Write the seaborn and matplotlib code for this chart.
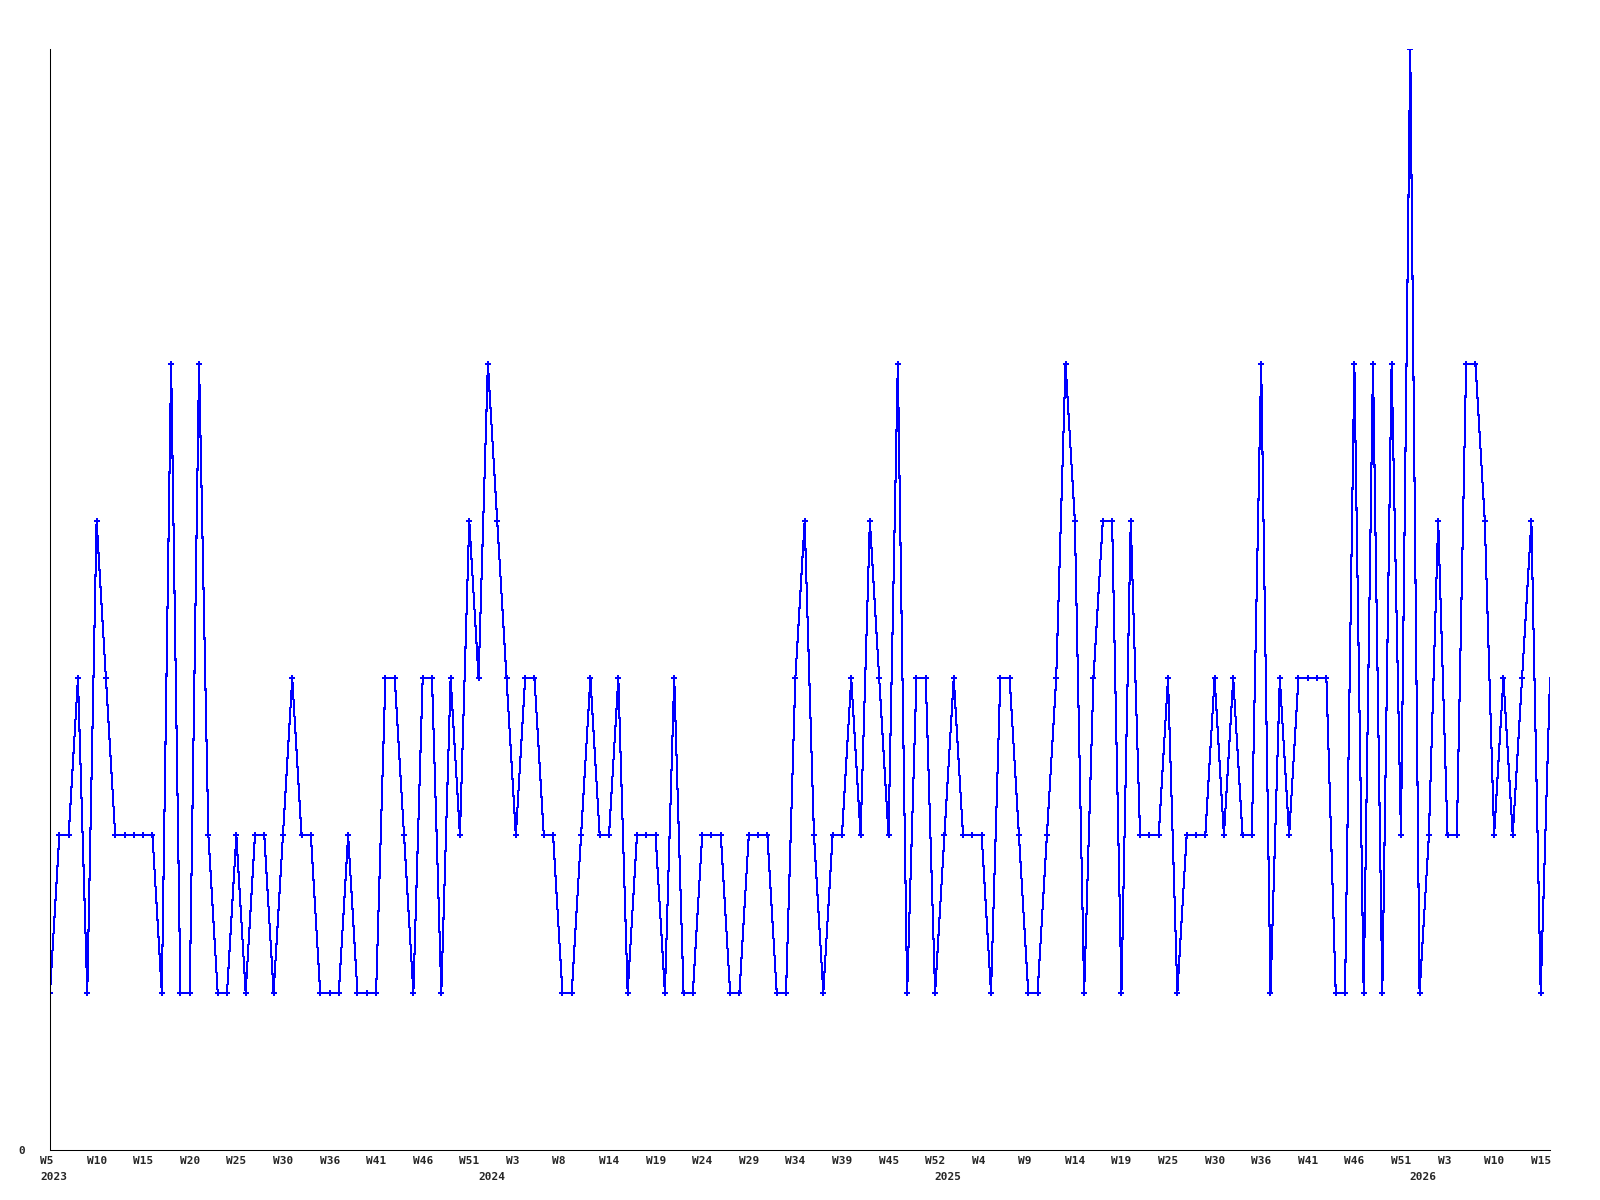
import numpy as np
import pandas as pd
import matplotlib
matplotlib.use('Agg')
import matplotlib.pyplot as plt
import matplotlib.transforms as mtransforms
import seaborn as sns

# weekly counts, 2023 W5 .. 2026 W16
values = [
    1, 2, 2, 3, 1, 4, 3, 2, 2, 2, 2, 2, 1, 5, 1, 1, 5, 2, 1, 1, 2,
    1, 2, 2, 1, 2, 3, 2, 2, 1, 1, 1, 2, 1, 1, 1, 3, 3, 2, 1, 3,
    3, 1, 3, 2, 4, 3, 5, 4, 3, 2, 3, 3, 2, 2, 1, 1, 2, 3, 2, 2, 3,
    1, 2, 2, 2, 1, 3, 1, 1, 2, 2, 2, 1, 1, 2, 2, 2, 1, 1, 3, 4,
    2, 1, 2, 2, 3, 2, 4, 3, 2, 5, 1, 3, 3, 1, 2, 3, 2, 2, 2, 1, 3,
    3, 2, 1, 1, 2, 3, 5, 4, 1, 3, 4, 4, 1, 4, 2, 2, 2, 3, 1, 2,
    2, 2, 3, 2, 3, 2, 2, 5, 1, 3, 2, 3, 3, 3, 3, 1, 1, 5, 1, 5,
    1, 5, 2, 7, 1, 2, 4, 2, 2, 5, 5, 4, 2, 3, 2, 3, 4, 1, 3,
]

# one label every 5th point
week_labels = ['W5', 'W10', 'W15', 'W20', 'W25', 'W30', 'W36', 'W41', 'W46', 'W51',
               'W3', 'W8', 'W14', 'W19', 'W24', 'W29', 'W34', 'W39', 'W45', 'W52',
               'W4', 'W9', 'W14', 'W19', 'W25', 'W30', 'W36', 'W41', 'W46', 'W51',
               'W3', 'W10', 'W15']
year_labels = ['2023', '2024', '2025', '2026']
year_start = [0, 47, 96, 147]

sns.set_style('white')
plt.rcParams['font.family'] = ['DejaVu Sans Mono']
plt.rcParams['font.weight'] = 'bold'
plt.rcParams['font.size'] = 8

df = pd.DataFrame({'week': np.arange(len(values)), 'count': values})

fig = plt.figure(figsize=(16, 12), dpi=100)
ax = fig.add_axes([50 / 1600, 50 / 1200, 1500 / 1600, 1101 / 1200])

sns.lineplot(data=df, x='week', y='count', ax=ax, color='#0000ff',
             linewidth=0.75, marker='P', markersize=4.5, markeredgewidth=0,
             markevery=list(range(len(values) - 1)), antialiased=False)

ax.set_xlim(0, len(values) - 1)
ax.set_ylim(0, 7)
ax.set_xlabel('')
ax.set_ylabel('')
ax.grid(False)

ax.set_yticks([0])
ax.set_yticklabels(['0'])

ax.set_xticks(np.arange(0, len(values), 5))
ax.set_xticklabels(week_labels)
ax.tick_params(axis='x', length=0, pad=4, labelsize=8)
ax.tick_params(axis='y', length=0, pad=18, labelsize=8)

shift = mtransforms.ScaledTranslation(-10 / 100, 0, fig.dpi_scale_trans)
for lab in ax.get_xticklabels():
    lab.set_horizontalalignment('left')
    lab.set_transform(lab.get_transform() + shift)

# year labels on a second row under the week labels
year_tf = mtransforms.blended_transform_factory(ax.transData, ax.transAxes) + \
    mtransforms.ScaledTranslation(-10 / 100, -27 / 100, fig.dpi_scale_trans)
for pos, yr in zip(year_start, year_labels):
    ax.text(pos, 0, yr, transform=year_tf, ha='left', va='center', fontsize=8,
            fontweight='bold')

sns.despine(ax=ax)
for side in ['left', 'bottom']:
    ax.spines[side].set_color('black')
    ax.spines[side].set_linewidth(0.75)

fig.savefig('out.png', dpi=100, facecolor='white')
